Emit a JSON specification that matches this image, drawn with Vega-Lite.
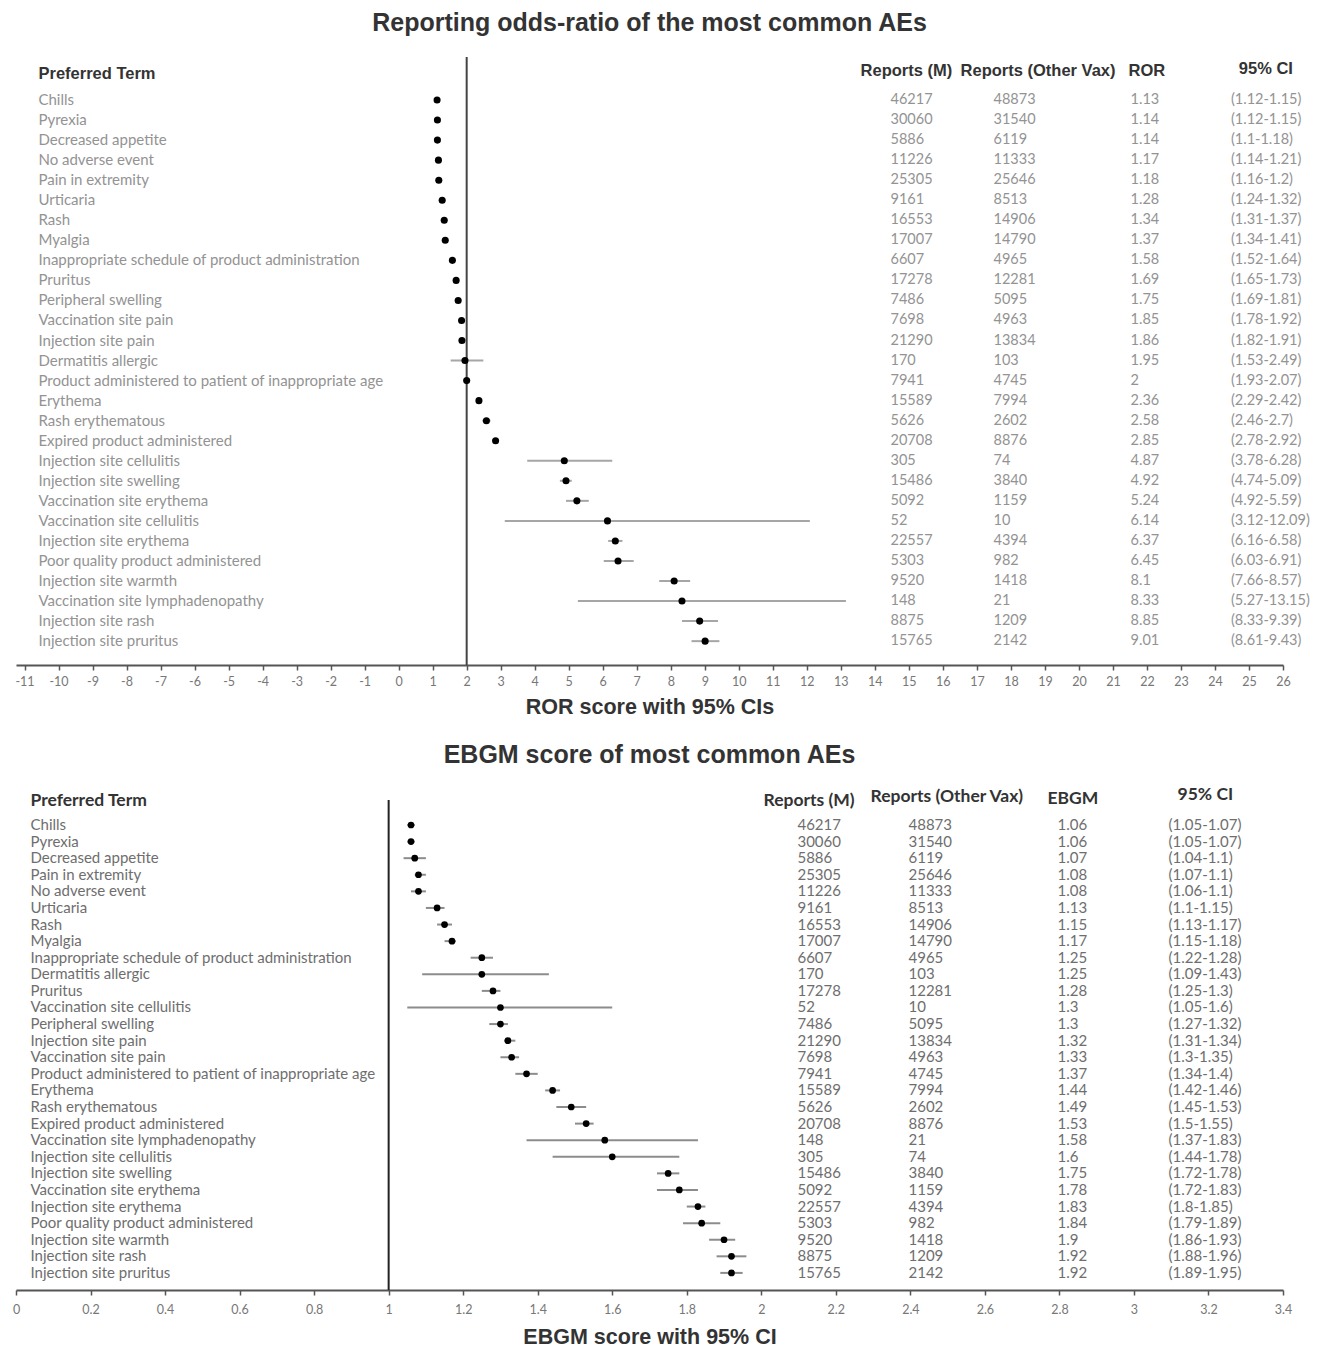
{
  "$schema": "https://vega.github.io/schema/vega-lite/v6.json",
  "background": "white",
  "padding": {"left": 12, "top": 11, "right": 5, "bottom": 0},
  "config": {"view": {"stroke": null}, "concat": {"spacing": 24}, "axis": {"labelOverlap": false}, "axisX": {"labelOverlap": false, "labelBound": false, "labelFlush": false}},
  "datasets": {
    "one": [{}],
    "ror": [
      {"rank": 1, "term": "Chills", "n_m": 46217, "n_other": 48873, "est": 1.13, "lo": 1.12, "hi": 1.15, "ci": "(1.12-1.15)"},
      {"rank": 2, "term": "Pyrexia", "n_m": 30060, "n_other": 31540, "est": 1.14, "lo": 1.12, "hi": 1.15, "ci": "(1.12-1.15)"},
      {"rank": 3, "term": "Decreased appetite", "n_m": 5886, "n_other": 6119, "est": 1.14, "lo": 1.1, "hi": 1.18, "ci": "(1.1-1.18)"},
      {"rank": 4, "term": "No adverse event", "n_m": 11226, "n_other": 11333, "est": 1.17, "lo": 1.14, "hi": 1.21, "ci": "(1.14-1.21)"},
      {"rank": 5, "term": "Pain in extremity", "n_m": 25305, "n_other": 25646, "est": 1.18, "lo": 1.16, "hi": 1.2, "ci": "(1.16-1.2)"},
      {"rank": 6, "term": "Urticaria", "n_m": 9161, "n_other": 8513, "est": 1.28, "lo": 1.24, "hi": 1.32, "ci": "(1.24-1.32)"},
      {"rank": 7, "term": "Rash", "n_m": 16553, "n_other": 14906, "est": 1.34, "lo": 1.31, "hi": 1.37, "ci": "(1.31-1.37)"},
      {"rank": 8, "term": "Myalgia", "n_m": 17007, "n_other": 14790, "est": 1.37, "lo": 1.34, "hi": 1.41, "ci": "(1.34-1.41)"},
      {"rank": 9, "term": "Inappropriate schedule of product administration", "n_m": 6607, "n_other": 4965, "est": 1.58, "lo": 1.52, "hi": 1.64, "ci": "(1.52-1.64)"},
      {"rank": 10, "term": "Pruritus", "n_m": 17278, "n_other": 12281, "est": 1.69, "lo": 1.65, "hi": 1.73, "ci": "(1.65-1.73)"},
      {"rank": 11, "term": "Peripheral swelling", "n_m": 7486, "n_other": 5095, "est": 1.75, "lo": 1.69, "hi": 1.81, "ci": "(1.69-1.81)"},
      {"rank": 12, "term": "Vaccination site pain", "n_m": 7698, "n_other": 4963, "est": 1.85, "lo": 1.78, "hi": 1.92, "ci": "(1.78-1.92)"},
      {"rank": 13, "term": "Injection site pain", "n_m": 21290, "n_other": 13834, "est": 1.86, "lo": 1.82, "hi": 1.91, "ci": "(1.82-1.91)"},
      {"rank": 14, "term": "Dermatitis allergic", "n_m": 170, "n_other": 103, "est": 1.95, "lo": 1.53, "hi": 2.49, "ci": "(1.53-2.49)"},
      {"rank": 15, "term": "Product administered to patient of inappropriate age", "n_m": 7941, "n_other": 4745, "est": 2, "lo": 1.93, "hi": 2.07, "ci": "(1.93-2.07)"},
      {"rank": 16, "term": "Erythema", "n_m": 15589, "n_other": 7994, "est": 2.36, "lo": 2.29, "hi": 2.42, "ci": "(2.29-2.42)"},
      {"rank": 17, "term": "Rash erythematous", "n_m": 5626, "n_other": 2602, "est": 2.58, "lo": 2.46, "hi": 2.7, "ci": "(2.46-2.7)"},
      {"rank": 18, "term": "Expired product administered", "n_m": 20708, "n_other": 8876, "est": 2.85, "lo": 2.78, "hi": 2.92, "ci": "(2.78-2.92)"},
      {"rank": 19, "term": "Injection site cellulitis", "n_m": 305, "n_other": 74, "est": 4.87, "lo": 3.78, "hi": 6.28, "ci": "(3.78-6.28)"},
      {"rank": 20, "term": "Injection site swelling", "n_m": 15486, "n_other": 3840, "est": 4.92, "lo": 4.74, "hi": 5.09, "ci": "(4.74-5.09)"},
      {"rank": 21, "term": "Vaccination site erythema", "n_m": 5092, "n_other": 1159, "est": 5.24, "lo": 4.92, "hi": 5.59, "ci": "(4.92-5.59)"},
      {"rank": 22, "term": "Vaccination site cellulitis", "n_m": 52, "n_other": 10, "est": 6.14, "lo": 3.12, "hi": 12.09, "ci": "(3.12-12.09)"},
      {"rank": 23, "term": "Injection site erythema", "n_m": 22557, "n_other": 4394, "est": 6.37, "lo": 6.16, "hi": 6.58, "ci": "(6.16-6.58)"},
      {"rank": 24, "term": "Poor quality product administered", "n_m": 5303, "n_other": 982, "est": 6.45, "lo": 6.03, "hi": 6.91, "ci": "(6.03-6.91)"},
      {"rank": 25, "term": "Injection site warmth", "n_m": 9520, "n_other": 1418, "est": 8.1, "lo": 7.66, "hi": 8.57, "ci": "(7.66-8.57)"},
      {"rank": 26, "term": "Vaccination site lymphadenopathy", "n_m": 148, "n_other": 21, "est": 8.33, "lo": 5.27, "hi": 13.15, "ci": "(5.27-13.15)"},
      {"rank": 27, "term": "Injection site rash", "n_m": 8875, "n_other": 1209, "est": 8.85, "lo": 8.33, "hi": 9.39, "ci": "(8.33-9.39)"},
      {"rank": 28, "term": "Injection site pruritus", "n_m": 15765, "n_other": 2142, "est": 9.01, "lo": 8.61, "hi": 9.43, "ci": "(8.61-9.43)"}
    ],
    "ebgm": [
      {"rank": 1, "term": "Chills", "n_m": 46217, "n_other": 48873, "est": 1.06, "lo": 1.05, "hi": 1.07, "ci": "(1.05-1.07)"},
      {"rank": 2, "term": "Pyrexia", "n_m": 30060, "n_other": 31540, "est": 1.06, "lo": 1.05, "hi": 1.07, "ci": "(1.05-1.07)"},
      {"rank": 3, "term": "Decreased appetite", "n_m": 5886, "n_other": 6119, "est": 1.07, "lo": 1.04, "hi": 1.1, "ci": "(1.04-1.1)"},
      {"rank": 4, "term": "Pain in extremity", "n_m": 25305, "n_other": 25646, "est": 1.08, "lo": 1.07, "hi": 1.1, "ci": "(1.07-1.1)"},
      {"rank": 5, "term": "No adverse event", "n_m": 11226, "n_other": 11333, "est": 1.08, "lo": 1.06, "hi": 1.1, "ci": "(1.06-1.1)"},
      {"rank": 6, "term": "Urticaria", "n_m": 9161, "n_other": 8513, "est": 1.13, "lo": 1.1, "hi": 1.15, "ci": "(1.1-1.15)"},
      {"rank": 7, "term": "Rash", "n_m": 16553, "n_other": 14906, "est": 1.15, "lo": 1.13, "hi": 1.17, "ci": "(1.13-1.17)"},
      {"rank": 8, "term": "Myalgia", "n_m": 17007, "n_other": 14790, "est": 1.17, "lo": 1.15, "hi": 1.18, "ci": "(1.15-1.18)"},
      {"rank": 9, "term": "Inappropriate schedule of product administration", "n_m": 6607, "n_other": 4965, "est": 1.25, "lo": 1.22, "hi": 1.28, "ci": "(1.22-1.28)"},
      {"rank": 10, "term": "Dermatitis allergic", "n_m": 170, "n_other": 103, "est": 1.25, "lo": 1.09, "hi": 1.43, "ci": "(1.09-1.43)"},
      {"rank": 11, "term": "Pruritus", "n_m": 17278, "n_other": 12281, "est": 1.28, "lo": 1.25, "hi": 1.3, "ci": "(1.25-1.3)"},
      {"rank": 12, "term": "Vaccination site cellulitis", "n_m": 52, "n_other": 10, "est": 1.3, "lo": 1.05, "hi": 1.6, "ci": "(1.05-1.6)"},
      {"rank": 13, "term": "Peripheral swelling", "n_m": 7486, "n_other": 5095, "est": 1.3, "lo": 1.27, "hi": 1.32, "ci": "(1.27-1.32)"},
      {"rank": 14, "term": "Injection site pain", "n_m": 21290, "n_other": 13834, "est": 1.32, "lo": 1.31, "hi": 1.34, "ci": "(1.31-1.34)"},
      {"rank": 15, "term": "Vaccination site pain", "n_m": 7698, "n_other": 4963, "est": 1.33, "lo": 1.3, "hi": 1.35, "ci": "(1.3-1.35)"},
      {"rank": 16, "term": "Product administered to patient of inappropriate age", "n_m": 7941, "n_other": 4745, "est": 1.37, "lo": 1.34, "hi": 1.4, "ci": "(1.34-1.4)"},
      {"rank": 17, "term": "Erythema", "n_m": 15589, "n_other": 7994, "est": 1.44, "lo": 1.42, "hi": 1.46, "ci": "(1.42-1.46)"},
      {"rank": 18, "term": "Rash erythematous", "n_m": 5626, "n_other": 2602, "est": 1.49, "lo": 1.45, "hi": 1.53, "ci": "(1.45-1.53)"},
      {"rank": 19, "term": "Expired product administered", "n_m": 20708, "n_other": 8876, "est": 1.53, "lo": 1.5, "hi": 1.55, "ci": "(1.5-1.55)"},
      {"rank": 20, "term": "Vaccination site lymphadenopathy", "n_m": 148, "n_other": 21, "est": 1.58, "lo": 1.37, "hi": 1.83, "ci": "(1.37-1.83)"},
      {"rank": 21, "term": "Injection site cellulitis", "n_m": 305, "n_other": 74, "est": 1.6, "lo": 1.44, "hi": 1.78, "ci": "(1.44-1.78)"},
      {"rank": 22, "term": "Injection site swelling", "n_m": 15486, "n_other": 3840, "est": 1.75, "lo": 1.72, "hi": 1.78, "ci": "(1.72-1.78)"},
      {"rank": 23, "term": "Vaccination site erythema", "n_m": 5092, "n_other": 1159, "est": 1.78, "lo": 1.72, "hi": 1.83, "ci": "(1.72-1.83)"},
      {"rank": 24, "term": "Injection site erythema", "n_m": 22557, "n_other": 4394, "est": 1.83, "lo": 1.8, "hi": 1.85, "ci": "(1.8-1.85)"},
      {"rank": 25, "term": "Poor quality product administered", "n_m": 5303, "n_other": 982, "est": 1.84, "lo": 1.79, "hi": 1.89, "ci": "(1.79-1.89)"},
      {"rank": 26, "term": "Injection site warmth", "n_m": 9520, "n_other": 1418, "est": 1.9, "lo": 1.86, "hi": 1.93, "ci": "(1.86-1.93)"},
      {"rank": 27, "term": "Injection site rash", "n_m": 8875, "n_other": 1209, "est": 1.92, "lo": 1.88, "hi": 1.96, "ci": "(1.88-1.96)"},
      {"rank": 28, "term": "Injection site pruritus", "n_m": 15765, "n_other": 2142, "est": 1.92, "lo": 1.89, "hi": 1.95, "ci": "(1.89-1.95)"}
    ]
  },
  "vconcat": [
    {
      "width": 1267,
      "height": 608,
      "title": {"text": "Reporting odds-ratio of the most common AEs", "font": "Liberation Sans", "fontSize": 25, "fontWeight": "bold", "color": "#333333", "anchor": "middle", "offset": 20},
      "data": {"name": "ror"},
      "layer": [
        {
          "mark": {"type": "rule", "color": "#a6a6a6", "strokeWidth": 2},
          "encoding": {
            "x": {"field": "lo", "type": "quantitative",
              "scale": {"domain": [-11.25, 26], "nice": false, "zero": false},
              "axis": {"title": "ROR score with 95% CIs", "values": [-11,-10,-9,-8,-7,-6,-5,-4,-3,-2,-1,0,1,2,3,4,5,6,7,8,9,10,11,12,13,14,15,16,17,18,19,20,21,22,23,24,25,26],
                "tickCount": 50,
                "labelExpr": "'' + datum.value", "grid": false, "domainColor": "#555555", "domainWidth": 2, "tickColor": "#555555", "tickSize": 5, "tickWidth": 1.5,
                "labelColor": "#777777", "labelFont": "Lato", "labelFontSize": 12.5, "labelPadding": 5, "labelFlush": false, "labelOverlap": false, "labelBound": false,
                "titleFont": "Liberation Sans", "titleFontSize": 21.5, "titleFontWeight": "bold", "titleColor": "#333333", "titlePadding": 9}},
            "x2": {"field": "hi"},
            "y": {"field": "rank", "type": "quantitative", "scale": {"domain": [-1.146, 29.19], "reverse": true, "nice": false, "zero": false}, "axis": null}
          }
        },
        {
          "data": {"name": "one"},
          "mark": {"type": "rule", "color": "#444444", "strokeWidth": 2},
          "encoding": {"x": {"datum": 2, "type": "quantitative"}}
        },
        {
          "mark": {"type": "point", "filled": true, "color": "#000000", "size": 50, "opacity": 1},
          "encoding": {
            "x": {"field": "est", "type": "quantitative"},
            "y": {"field": "rank", "type": "quantitative", "axis": null}
          }
        },
        {
          "mark": {"type": "text", "align": "left", "font": "Lato", "fontSize": 15, "color": "#939393"},
          "encoding": {"x": {"datum": -10.59}, "y": {"field": "rank", "type": "quantitative", "axis": null}, "text": {"field": "term", "type": "nominal"}}
        },
        {
          "mark": {"type": "text", "align": "left", "font": "Lato", "fontSize": 14.5, "color": "#939393"},
          "encoding": {"x": {"datum": 14.46}, "y": {"field": "rank", "type": "quantitative", "axis": null}, "text": {"field": "n_m", "type": "nominal"}}
        },
        {
          "mark": {"type": "text", "align": "left", "font": "Lato", "fontSize": 14.5, "color": "#939393"},
          "encoding": {"x": {"datum": 17.49}, "y": {"field": "rank", "type": "quantitative", "axis": null}, "text": {"field": "n_other", "type": "nominal"}}
        },
        {
          "mark": {"type": "text", "align": "left", "font": "Lato", "fontSize": 14.5, "color": "#939393"},
          "encoding": {"x": {"datum": 21.52}, "y": {"field": "rank", "type": "quantitative", "axis": null}, "text": {"field": "est", "type": "nominal"}}
        },
        {
          "mark": {"type": "text", "align": "left", "font": "Lato", "fontSize": 14.5, "color": "#939393"},
          "encoding": {"x": {"datum": 24.47}, "y": {"field": "rank", "type": "quantitative", "axis": null}, "text": {"field": "ci", "type": "nominal"}}
        },
        {
          "data": {"name": "one"},
          "mark": {"type": "text", "align": "left", "font": "Liberation Sans", "fontSize": 16.5, "fontWeight": "bold", "color": "#333333"},
          "encoding": {"x": {"datum": -10.59}, "y": {"datum": -0.3, "axis": null}, "text": {"value": "Preferred Term"}}
        },
        {
          "data": {"name": "one"},
          "mark": {"type": "text", "align": "left", "font": "Liberation Sans", "fontSize": 16.5, "fontWeight": "bold", "color": "#333333"},
          "encoding": {"x": {"datum": 13.58}, "y": {"datum": -0.45, "axis": null}, "text": {"value": "Reports (M)"}}
        },
        {
          "data": {"name": "one"},
          "mark": {"type": "text", "align": "left", "font": "Liberation Sans", "fontSize": 16.5, "fontWeight": "bold", "color": "#333333"},
          "encoding": {"x": {"datum": 16.52}, "y": {"datum": -0.45, "axis": null}, "text": {"value": "Reports (Other Vax)"}}
        },
        {
          "data": {"name": "one"},
          "mark": {"type": "text", "align": "left", "font": "Liberation Sans", "fontSize": 16.5, "fontWeight": "bold", "color": "#333333"},
          "encoding": {"x": {"datum": 21.46}, "y": {"datum": -0.45, "axis": null}, "text": {"value": "ROR"}}
        },
        {
          "data": {"name": "one"},
          "mark": {"type": "text", "align": "left", "font": "Liberation Sans", "fontSize": 16.5, "fontWeight": "bold", "color": "#333333"},
          "encoding": {"x": {"datum": 24.7}, "y": {"datum": -0.55, "axis": null}, "text": {"value": "95% CI"}}
        }
      ]
    },
    {
      "width": 1267,
      "height": 490,
      "title": {"text": "EBGM score of most common AEs", "font": "Liberation Sans", "fontSize": 25, "fontWeight": "bold", "color": "#333333", "anchor": "middle", "offset": 18},
      "data": {"name": "ebgm"},
      "layer": [
        {
          "mark": {"type": "rule", "color": "#8c8c8c", "strokeWidth": 2},
          "encoding": {
            "x": {"field": "lo", "type": "quantitative",
              "scale": {"domain": [0, 3.4], "nice": false, "zero": false},
              "axis": {"title": "EBGM score with 95% CI", "values": [0, 0.2, 0.4, 0.6, 0.8, 1, 1.2, 1.4, 1.6, 1.8, 2, 2.2, 2.4, 2.6, 2.8, 3, 3.2, 3.4],
                "tickCount": 50,
                "labelExpr": "'' + datum.value", "grid": false, "domainColor": "#555555", "domainWidth": 2, "tickColor": "#555555", "tickSize": 5, "tickWidth": 1.5,
                "labelColor": "#777777", "labelFont": "Lato", "labelFontSize": 12.5, "labelPadding": 8, "labelFlush": false, "labelOverlap": false, "labelBound": false,
                "titleFont": "Liberation Sans", "titleFontSize": 21.5, "titleFontWeight": "bold", "titleColor": "#333333", "titlePadding": 11}},
            "x2": {"field": "hi"},
            "y": {"field": "rank", "type": "quantitative", "scale": {"domain": [-0.507, 29.03], "reverse": true, "nice": false, "zero": false}, "axis": null}
          }
        },
        {
          "data": {"name": "one"},
          "mark": {"type": "rule", "color": "#222222", "strokeWidth": 2},
          "encoding": {"x": {"datum": 1, "type": "quantitative"}}
        },
        {
          "mark": {"type": "point", "filled": true, "color": "#000000", "size": 45, "opacity": 1},
          "encoding": {
            "x": {"field": "est", "type": "quantitative"},
            "y": {"field": "rank", "type": "quantitative", "axis": null}
          }
        },
        {
          "mark": {"type": "text", "align": "left", "font": "Lato", "fontSize": 15, "color": "#6e6e6e"},
          "encoding": {"x": {"datum": 0.039}, "y": {"field": "rank", "type": "quantitative", "axis": null}, "text": {"field": "term", "type": "nominal"}}
        },
        {
          "mark": {"type": "text", "align": "left", "font": "Lato", "fontSize": 15, "color": "#6e6e6e"},
          "encoding": {"x": {"datum": 2.097}, "y": {"field": "rank", "type": "quantitative", "axis": null}, "text": {"field": "n_m", "type": "nominal"}}
        },
        {
          "mark": {"type": "text", "align": "left", "font": "Lato", "fontSize": 15, "color": "#6e6e6e"},
          "encoding": {"x": {"datum": 2.395}, "y": {"field": "rank", "type": "quantitative", "axis": null}, "text": {"field": "n_other", "type": "nominal"}}
        },
        {
          "mark": {"type": "text", "align": "left", "font": "Lato", "fontSize": 15, "color": "#6e6e6e"},
          "encoding": {"x": {"datum": 2.795}, "y": {"field": "rank", "type": "quantitative", "axis": null}, "text": {"field": "est", "type": "nominal"}}
        },
        {
          "mark": {"type": "text", "align": "left", "font": "Lato", "fontSize": 15, "color": "#6e6e6e"},
          "encoding": {"x": {"datum": 3.093}, "y": {"field": "rank", "type": "quantitative", "axis": null}, "text": {"field": "ci", "type": "nominal"}}
        },
        {
          "data": {"name": "one"},
          "mark": {"type": "text", "align": "left", "font": "Lato", "fontSize": 17.5, "fontWeight": "bold", "color": "#333333"},
          "encoding": {"x": {"datum": 0.039}, "y": {"datum": -0.45, "axis": null}, "text": {"value": "Preferred Term"}}
        },
        {
          "data": {"name": "one"},
          "mark": {"type": "text", "align": "left", "font": "Lato", "fontSize": 17.5, "fontWeight": "bold", "color": "#333333"},
          "encoding": {"x": {"datum": 2.006}, "y": {"datum": -0.45, "axis": null}, "text": {"value": "Reports (M)"}}
        },
        {
          "data": {"name": "one"},
          "mark": {"type": "text", "align": "left", "font": "Lato", "fontSize": 17.5, "fontWeight": "bold", "color": "#333333"},
          "encoding": {"x": {"datum": 2.293}, "y": {"datum": -0.69, "axis": null}, "text": {"value": "Reports (Other Vax)"}}
        },
        {
          "data": {"name": "one"},
          "mark": {"type": "text", "align": "left", "font": "Lato", "fontSize": 17.5, "fontWeight": "bold", "color": "#333333"},
          "encoding": {"x": {"datum": 2.768}, "y": {"datum": -0.57, "axis": null}, "text": {"value": "EBGM"}}
        },
        {
          "data": {"name": "one"},
          "mark": {"type": "text", "align": "left", "font": "Lato", "fontSize": 17.5, "fontWeight": "bold", "color": "#333333"},
          "encoding": {"x": {"datum": 3.117}, "y": {"datum": -0.81, "axis": null}, "text": {"value": "95% CI"}}
        }
      ]
    }
  ]
}
